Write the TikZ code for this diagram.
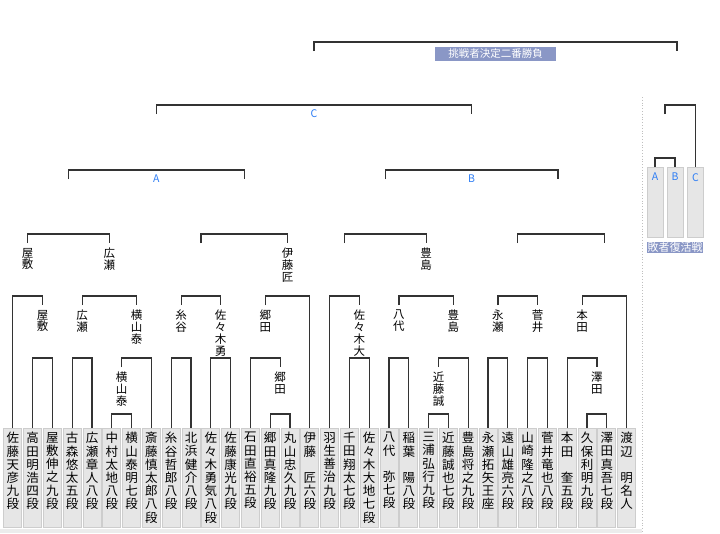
\documentclass[tikz,border=0pt]{standalone}
\usepackage{fontspec}
\newfontfamily\jpfont{Noto Sans CJK JP}
\usetikzlibrary{positioning,calc}
\definecolor{cellgray}{RGB}{230,230,230}
\definecolor{cellline}{RGB}{205,205,205}
\definecolor{bannerblue}{RGB}{138,151,198}
\definecolor{roundblue}{RGB}{45,125,245}
\newcommand{\vcell}[1]{\parbox[c][91pt][t]{18pt}{\centering #1}}
\newcommand{\bkt}[3]{\draw[bline] let \p1=(#1), \p2=(#2) in (\p1) -- (\x1,-#3pt) -- (\x2,-#3pt) -- (\p2);}
\begin{document}
\begin{tikzpicture}[x=1pt,y=-1pt]
	\def \toprow{42}
	\def \crow{105}
	\def \abrow{170}
	\def \rowtwo{234}
	\def \rowthree{296}
	\def \rowfour{358}
	\def \rowfive{414}
	\def \cellrow{428}
	\tikzstyle{bline}=[draw=black!80,line width=1.2pt]
	\tikzstyle{pcell}=[rectangle,anchor=north,fill=cellgray,draw=cellline,line width=0.8pt,inner xsep=0pt,inner ysep=4pt,font=\jpfont\fontsize{12.5}{13.2}\selectfont]
	\tikzstyle{wname}=[anchor=north,inner sep=0pt,outer ysep=5pt,align=center,font=\jpfont\fontsize{11.5}{11.8}\selectfont]
	\tikzstyle{rlabel}=[inner sep=0pt,text=roundblue,font=\jpfont\fontsize{10.5}{10.5}\selectfont]
	\tikzstyle{banner}=[fill=bannerblue,text=white,inner sep=0pt,font=\jpfont\fontsize{10.5}{10.5}\selectfont]
	\tikzstyle{lbox}=[rectangle,anchor=north,fill=cellgray,draw=cellline,line width=0.8pt,minimum width=16pt,minimum height=70pt,inner sep=0pt]
	\path[use as bounding box,fill=white] (0,0) rectangle (720,533);
	\fill[gray!15] (0,529) rectangle (642,533);
	\draw[dotted,gray!50,line width=0.8pt] (642,97) -- (642,533);

	% players
	\node[pcell] 	(p1)	at (12.8,\cellrow)	{\vcell{佐\\藤\\天\\彦\\九\\段}};
	\node[pcell] 	(p2)	at (32.6,\cellrow)	{\vcell{高\\田\\明\\浩\\四\\段}};
	\node[pcell] 	(p3)	at (52.4,\cellrow)	{\vcell{屋\\敷\\伸\\之\\九\\段}};
	\node[pcell] 	(p4)	at (72.2,\cellrow)	{\vcell{古\\森\\悠\\太\\五\\段}};
	\node[pcell] 	(p5)	at (92.0,\cellrow)	{\vcell{広\\瀬\\章\\人\\八\\段}};
	\node[pcell] 	(p6)	at (111.8,\cellrow)	{\vcell{中\\村\\太\\地\\八\\段}};
	\node[pcell] 	(p7)	at (131.6,\cellrow)	{\vcell{横\\山\\泰\\明\\七\\段}};
	\node[pcell] 	(p8)	at (151.4,\cellrow)	{\vcell{斎\\藤\\慎\\太\\郎\\八\\段}};
	\node[pcell] 	(p9)	at (171.2,\cellrow)	{\vcell{糸\\谷\\哲\\郎\\八\\段}};
	\node[pcell] 	(p10)	at (191.0,\cellrow)	{\vcell{北\\浜\\健\\介\\八\\段}};
	\node[pcell] 	(p11)	at (210.8,\cellrow)	{\vcell{佐\\々\\木\\勇\\気\\八\\段}};
	\node[pcell] 	(p12)	at (230.6,\cellrow)	{\vcell{佐\\藤\\康\\光\\九\\段}};
	\node[pcell] 	(p13)	at (250.4,\cellrow)	{\vcell{石\\田\\直\\裕\\五\\段}};
	\node[pcell] 	(p14)	at (270.2,\cellrow)	{\vcell{郷\\田\\真\\隆\\九\\段}};
	\node[pcell] 	(p15)	at (290.0,\cellrow)	{\vcell{丸\\山\\忠\\久\\九\\段}};
	\node[pcell] 	(p16)	at (309.8,\cellrow)	{\vcell{伊\\藤\\　\\匠\\六\\段}};
	\node[pcell] 	(p17)	at (329.6,\cellrow)	{\vcell{羽\\生\\善\\治\\九\\段}};
	\node[pcell] 	(p18)	at (349.4,\cellrow)	{\vcell{千\\田\\翔\\太\\七\\段}};
	\node[pcell] 	(p19)	at (369.2,\cellrow)	{\vcell{佐\\々\\木\\大\\地\\七\\段}};
	\node[pcell] 	(p20)	at (389.0,\cellrow)	{\vcell{八\\代\\　\\弥\\七\\段}};
	\node[pcell] 	(p21)	at (408.8,\cellrow)	{\vcell{稲\\葉\\　\\陽\\八\\段}};
	\node[pcell] 	(p22)	at (428.6,\cellrow)	{\vcell{三\\浦\\弘\\行\\九\\段}};
	\node[pcell] 	(p23)	at (448.4,\cellrow)	{\vcell{近\\藤\\誠\\也\\七\\段}};
	\node[pcell] 	(p24)	at (468.2,\cellrow)	{\vcell{豊\\島\\将\\之\\九\\段}};
	\node[pcell] 	(p25)	at (488.0,\cellrow)	{\vcell{永\\瀬\\拓\\矢\\王\\座}};
	\node[pcell] 	(p26)	at (507.8,\cellrow)	{\vcell{遠\\山\\雄\\亮\\六\\段}};
	\node[pcell] 	(p27)	at (527.6,\cellrow)	{\vcell{山\\崎\\隆\\之\\八\\段}};
	\node[pcell] 	(p28)	at (547.4,\cellrow)	{\vcell{菅\\井\\竜\\也\\八\\段}};
	\node[pcell] 	(p29)	at (567.2,\cellrow)	{\vcell{本\\田\\　\\奎\\五\\段}};
	\node[pcell] 	(p30)	at (587.0,\cellrow)	{\vcell{久\\保\\利\\明\\九\\段}};
	\node[pcell] 	(p31)	at (606.8,\cellrow)	{\vcell{澤\\田\\真\\吾\\七\\段}};
	\node[pcell] 	(p32)	at (626.6,\cellrow)	{\vcell{渡\\辺\\　\\明\\名\\人}};

	% winners, lower rows
	\node[wname] 	(w-yokoyama2)	at (121.7,\rowfour+9)	{横\\山\\泰};
	\node[wname] 	(w-goda2)	at (280.1,\rowfour+9)	{郷\\田};
	\node[wname] 	(w-kondo)	at (438.5,\rowfour+9)	{近\\藤\\誠};
	\node[wname] 	(w-sawada)	at (596.9,\rowfour+9)	{澤\\田};

	\node[wname] 	(w-yashiki2)	at (42.5,\rowthree+9)	{屋\\敷};
	\node[wname] 	(w-hirose2)	at (82.1,\rowthree+9)	{広\\瀬};
	\node[wname] 	(w-yokoyama1)	at (136.6,\rowthree+9)	{横\\山\\泰};
	\node[wname] 	(w-itoya)	at (181.1,\rowthree+9)	{糸\\谷};
	\node[wname] 	(w-sasakiyu)	at (220.7,\rowthree+9)	{佐\\々\\木\\勇};
	\node[wname] 	(w-goda1)	at (265.3,\rowthree+9)	{郷\\田};
	\node[wname] 	(w-sasakidai)	at (359.3,\rowthree+9)	{佐\\々\\木\\大};
	\node[wname] 	(w-yashiro)	at (398.9,\rowthree+9)	{八\\代};
	\node[wname] 	(w-toyoshima2)	at (453.4,\rowthree+9)	{豊\\島};
	\node[wname] 	(w-nagase)	at (497.9,\rowthree+9)	{永\\瀬};
	\node[wname] 	(w-sugai)	at (537.5,\rowthree+9)	{菅\\井};
	\node[wname] 	(w-honda)	at (582.1,\rowthree+9)	{本\\田};

	\node[wname] 	(w-yashiki1)	at (27.7,\rowtwo+9)	{屋\\敷};
	\node[wname] 	(w-hirose1)	at (109.3,\rowtwo+9)	{広\\瀬};
	\node[wname] 	(w-ito)	at (287.5,\rowtwo+9)	{伊\\藤\\匠};
	\node[wname] 	(w-toyoshima1)	at (426.1,\rowtwo+9)	{豊\\島};
	\coordinate 	(q3)	at (200.9,\rowtwo+9);
	\coordinate 	(q5)	at (344.5,\rowtwo+9);
	\coordinate 	(q7)	at (517.7,\rowtwo+9);
	\coordinate 	(q8)	at (604.3,\rowtwo+9);

	% rounds A, B, C and the final
	\coordinate 	(a1)	at (68.5,\abrow+9);
	\coordinate 	(a2)	at (244.2,\abrow+9);
	\coordinate 	(b1)	at (385.3,\abrow+9);
	\coordinate 	(b2)	at (558,\abrow+9);
	\coordinate 	(c1)	at (156.4,\crow+9);
	\coordinate 	(c2)	at (471.6,\crow+9);
	\coordinate 	(t1)	at (314,\toprow+9);
	\coordinate 	(t2)	at (677,\toprow+9);
	\node[rlabel] 	(rA)	at (156.4,\abrow+9)	{A};
	\node[rlabel] 	(rB)	at (471.6,\abrow+9)	{B};
	\node[rlabel] 	(rC)	at (314,\crow+9)	{C};
	\node[banner,minimum width=121pt,minimum height=13.5pt] 	(final)	at (495.5,54)	{挑戦者決定二番勝負};

	% losers' bracket
	\node[lbox] 	(lA)	at (655,167)	{};
	\node[lbox] 	(lB)	at (675,167)	{};
	\node[lbox] 	(lC)	at (695.5,167)	{};
	\node[rlabel,below=6pt of lA.north] 	(lA-t)	{A};
	\node[rlabel,below=6pt of lB.north] 	(lB-t)	{B};
	\node[rlabel,below=6pt of lC.north] 	(lC-t)	{C};
	\node[banner,minimum width=56pt,minimum height=11.5pt,font=\jpfont\fontsize{11}{11}\selectfont] 	(fukkatsu)	at (675,247.5)	{敗者復活戦};
	\coordinate 	(l1)	at (665,\crow+9);

	\bkt{p6.north}{p7.north}{\rowfive}
	\bkt{p14.north}{p15.north}{\rowfive}
	\bkt{p22.north}{p23.north}{\rowfive}
	\bkt{p30.north}{p31.north}{\rowfive}

	\bkt{p2.north}{p3.north}{\rowfour}
	\bkt{p4.north}{p5.north}{\rowfour}
	\bkt{w-yokoyama2.north}{p8.north}{\rowfour}
	\bkt{p9.north}{p10.north}{\rowfour}
	\bkt{p11.north}{p12.north}{\rowfour}
	\bkt{p13.north}{w-goda2.north}{\rowfour}
	\bkt{p18.north}{p19.north}{\rowfour}
	\bkt{p20.north}{p21.north}{\rowfour}
	\bkt{w-kondo.north}{p24.north}{\rowfour}
	\bkt{p25.north}{p26.north}{\rowfour}
	\bkt{p27.north}{p28.north}{\rowfour}
	\bkt{p29.north}{w-sawada.north}{\rowfour}

	\bkt{p1.north}{w-yashiki2.north}{\rowthree}
	\bkt{w-hirose2.north}{w-yokoyama1.north}{\rowthree}
	\bkt{w-itoya.north}{w-sasakiyu.north}{\rowthree}
	\bkt{w-goda1.north}{p16.north}{\rowthree}
	\bkt{p17.north}{w-sasakidai.north}{\rowthree}
	\bkt{w-yashiro.north}{w-toyoshima2.north}{\rowthree}
	\bkt{w-nagase.north}{w-sugai.north}{\rowthree}
	\bkt{w-honda.north}{p32.north}{\rowthree}

	\bkt{w-yashiki1.north}{w-hirose1.north}{\rowtwo}
	\bkt{q3}{w-ito.north}{\rowtwo}
	\bkt{q5}{w-toyoshima1.north}{\rowtwo}
	\bkt{q7}{q8}{\rowtwo}

	\bkt{a1}{a2}{\abrow}
	\bkt{b1}{b2}{\abrow}
	\bkt{c1}{c2}{\crow}
	\bkt{t1}{t2}{\toprow}

	\bkt{lA.north}{lB.north}{158}
	\bkt{l1}{lC.north}{\crow}
\end{tikzpicture}
\end{document}
